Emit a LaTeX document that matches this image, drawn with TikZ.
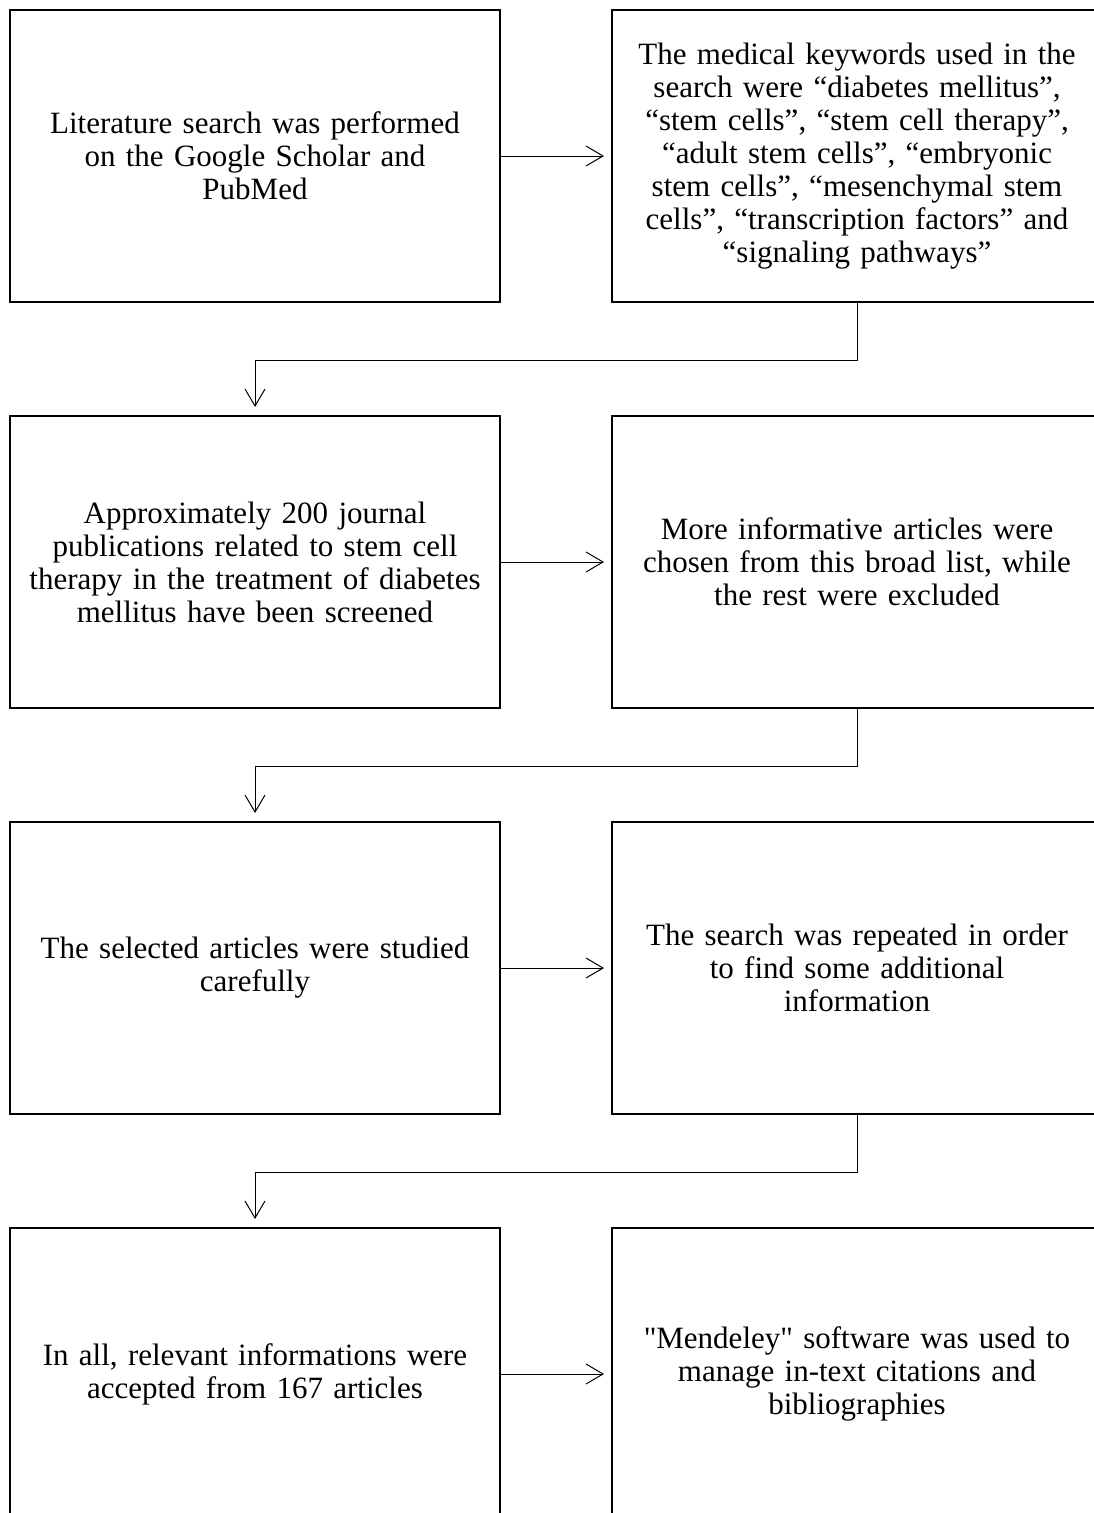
\documentclass[tikz,border=0pt]{standalone}
\usepackage{fontspec}
\setmainfont{Liberation Serif}
\usetikzlibrary{arrows.meta}
\begin{document}
\begin{tikzpicture}[x=1pt,y=-1pt,
                    mbox/.style = {shape = rectangle,
                                   draw = black,
                                   line width = 2pt,
                                   minimum height = 292pt,
                                   text width = 474pt,
                                   inner xsep = 8pt,
                                   align = center,
                                   font = \fontsize{31}{33}\selectfont},
                    marrow/.style = {line width = 1pt,
                                     -{Straight Barb[length=17pt,width=20pt,line width=1pt]}}]
		\useasboundingbox (0,0) rectangle (1094,1513);
		\clip (0,0) rectangle (1094,1513);
		\node[mbox] (1) at (255,156) {Literature search was performed\\on the Google Scholar and\\PubMed};
		\node[mbox] (2) at (857,156) {The medical keywords used in the\\search were “diabetes mellitus”,\\“stem cells”, “stem cell therapy”,\\“adult stem cells”, “embryonic\\stem cells”, “mesenchymal stem\\cells”, “transcription factors” and\\“signaling pathways”};
		\node[mbox] (3) at (255,562) {Approximately 200 journal\\publications related to stem cell\\therapy in the treatment of diabetes\\mellitus have been screened};
		\node[mbox] (4) at (857,562) {More informative articles were\\chosen from this broad list, while\\the rest were excluded};
		\node[mbox] (5) at (255,968) {The selected articles were studied\\carefully};
		\node[mbox] (6) at (857,968) {The search was repeated in order\\to find some additional\\information};
		\node[mbox] (7) at (255,1374) {In all, relevant informations were\\accepted from 167 articles};
		\node[mbox] (8) at (857,1374) {\textquotedbl Mendeley\textquotedbl{} software was used to\\manage in-text citations and\\bibliographies};
		% across
		\draw[marrow, shorten >=7pt] (1) -- (2);
		\draw[marrow, shorten >=7pt] (3) -- (4);
		\draw[marrow, shorten >=7pt] (5) -- (6);
		\draw[marrow, shorten >=7pt] (7) -- (8);
		% down to next row
		\draw[marrow, shorten >=8pt] (2.south) -- ++(0,57) -| (3.north);
		\draw[marrow, shorten >=8pt] (4.south) -- ++(0,57) -| (5.north);
		\draw[marrow, shorten >=8pt] (6.south) -- ++(0,57) -| (7.north);
	\end{tikzpicture}
\end{document}
